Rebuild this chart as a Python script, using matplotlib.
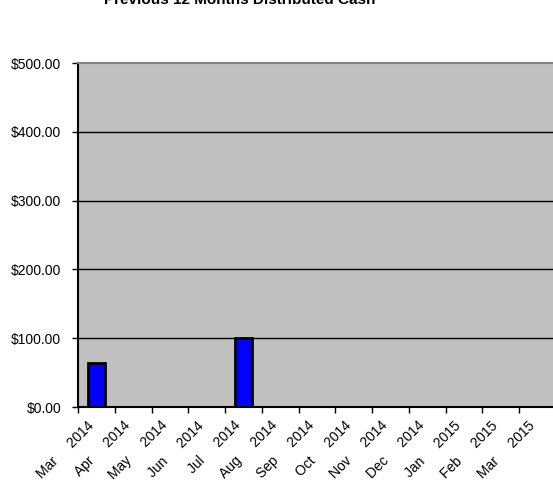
import matplotlib
matplotlib.use("Agg")
import matplotlib.pyplot as plt
from matplotlib.ticker import FuncFormatter, FixedLocator
from matplotlib.transforms import ScaledTranslation

plt.rcParams['font.family'] = ['Liberation Sans', 'DejaVu Sans']

title = "Previous 12 Months Distributed Cash"
months = ["Mar", "Apr", "May", "Jun", "Jul", "Aug", "Sep", "Oct", "Nov", "Dec",
          "Jan", "Feb", "Mar"]
years = ["2014"] * 10 + ["2015"] * 3
values = [63.5, 0, 0, 0, 100.5, 0, 0, 0, 0, 0, 0, 0, 0]
yticks = [0, 100, 200, 300, 400, 500]

labels = [f"{m}     {y}" for m, y in zip(months, years)]

fig = plt.figure(figsize=(5.53, 4.83), dpi=100)
ax = fig.add_axes([78/553, 76/483, 478/553, 344/483])
ax.set_facecolor('#C0C0C0')

n = len(values)
centers = [i + 0.5 for i in range(n)]
for c, v in zip(centers, values):
    if v > 0:
        ax.bar(c, v, width=0.45, color='#0000FF', edgecolor='black', linewidth=2.0, zorder=3)

ax.set_xlim(0, n)
ax.set_ylim(0, 500)
ax.set_yticks(yticks)
ax.yaxis.set_major_formatter(FuncFormatter(lambda v, p: f"${v:.2f}"))
for y in yticks[1:-1]:
    ax.axhline(y, color='black', linewidth=1.0, zorder=1)

ax.xaxis.set_major_locator(FixedLocator(list(range(n + 1))))
ax.xaxis.set_major_formatter(FuncFormatter(lambda v, p: ""))
ax.xaxis.set_minor_locator(FixedLocator(centers))
ax.set_xticklabels(labels, minor=True, rotation=45, ha='right', va='top',
                   rotation_mode='anchor', fontsize=10)
ax.tick_params(axis='x', which='minor', length=0, pad=6)
ax.tick_params(axis='x', which='major', length=4, width=1, color='black', direction='out')
ax.tick_params(axis='y', length=4, width=1, color='black', direction='out', labelsize=10, pad=8)

offset = ScaledTranslation(-10/100, -3/100, fig.dpi_scale_trans)
for lbl in ax.get_xticklabels(minor=True):
    lbl.set_transform(lbl.get_transform() + offset)

ax.spines['right'].set_visible(False)
ax.spines['top'].set_color('#808080')
ax.spines['top'].set_linewidth(1.5)
ax.spines['left'].set_color('black')
ax.spines['left'].set_linewidth(1.5)
ax.spines['bottom'].set_color('black')
ax.spines['bottom'].set_linewidth(1.5)

fig.text(240/553, 1 - 0/483, title, ha='center', va='center', fontsize=11, fontweight='bold')

fig.savefig("out.png", dpi=100)
